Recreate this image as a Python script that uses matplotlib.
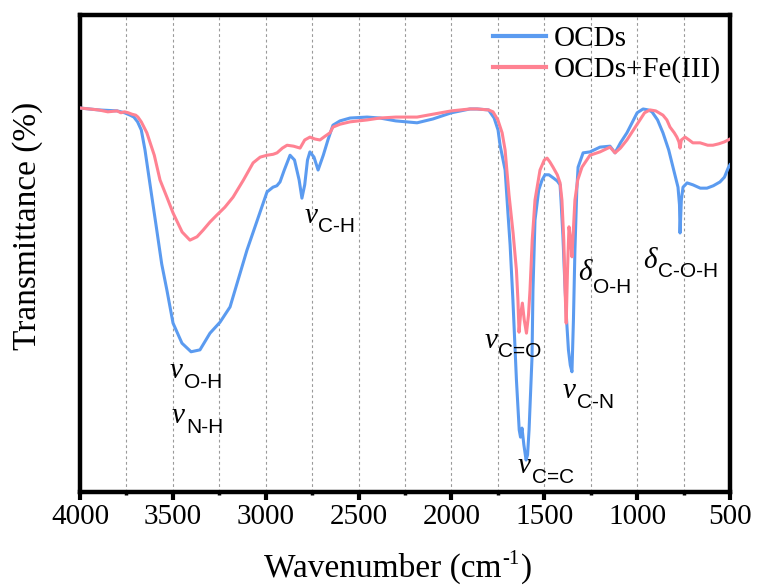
import matplotlib
matplotlib.use("Agg")
import matplotlib.pyplot as plt
from matplotlib.ticker import MultipleLocator

# ---- data (wavenumber in cm^-1, transmittance in arbitrary %) ----
ocds_wn = [4000, 3950, 3900, 3850, 3800, 3760, 3730, 3710, 3690, 3670, 3650, 3620, 3590,
           3560, 3532, 3499, 3451, 3402, 3354, 3300, 3246, 3192, 3101, 2993, 2961, 2940,
           2923, 2900, 2869, 2845, 2820, 2805, 2790, 2775, 2762, 2740, 2718, 2690, 2665,
           2638, 2600, 2546, 2454, 2385, 2300, 2185, 2100, 2000, 1900, 1862, 1800, 1770,
           1749, 1738, 1711, 1695, 1684, 1669, 1650, 1635, 1628, 1620, 1610, 1598, 1590,
           1582, 1566, 1561, 1550, 1530, 1512, 1496, 1475, 1450, 1430, 1415, 1410, 1400,
           1390, 1380, 1370, 1360, 1351, 1343, 1335, 1325, 1318, 1291, 1254, 1200, 1146,
           1119, 1090, 1055, 1000, 968, 940, 920, 890, 861, 830, 807, 780, 772, 769, 762,
           753, 731, 700, 660, 624, 590, 554, 530, 510, 500]
ocds_t = [80.5, 80.3, 80.1, 80.0, 79.9, 79.5, 79.0, 78.6, 77.6, 75.9, 71.7, 63.7, 55.8,
          47.8, 42.3, 35.4, 31.2, 29.4, 29.8, 33.3, 35.6, 38.8, 50.7, 62.9, 63.9, 64.2,
          65.0, 67.5, 70.6, 69.6, 65.4, 61.6, 64.4, 69.6, 71.3, 70.2, 67.5, 70.6, 73.8,
          76.9, 77.8, 78.4, 78.6, 78.4, 77.8, 77.4, 78.2, 79.5, 80.3, 80.3, 80.1, 78.4,
          75.9, 72.7, 67.5, 58.1, 51.8, 40.3, 23.5, 13.0, 11.5, 13.4, 9.9, 6.7, 7.8,
          13.0, 28.3, 42.3, 57.0, 63.3, 65.4, 66.5, 66.5, 65.8, 65.2, 64.4, 61.2, 53.9,
          44.4, 36.1, 29.8, 26.6, 25.2, 36.1, 50.7, 63.3, 68.1, 71.1, 71.3, 72.3, 72.5,
          71.1, 73.2, 75.3, 79.5, 80.3, 80.1, 79.7, 78.0, 75.3, 71.7, 68.1, 63.9, 60.2, 54.3, 61.2,
          63.9, 64.8, 64.4, 63.7, 63.7, 64.2, 65.0, 66.0, 67.9, 68.6]

fe_wn = [4000, 3950, 3900, 3850, 3800, 3780, 3760, 3740, 3720, 3700, 3688, 3670, 3640,
         3600, 3569, 3530, 3499, 3450, 3408, 3370, 3337, 3300, 3262, 3220, 3176, 3120,
         3068, 3030, 2993, 2960, 2939, 2910, 2885, 2850, 2815, 2790, 2762, 2735, 2708,
         2680, 2654, 2638, 2600, 2546, 2454, 2385, 2300, 2185, 2100, 2000, 1900, 1862,
         1800, 1776, 1750, 1727, 1711, 1690, 1668, 1650, 1642, 1636, 1628, 1618, 1608,
         1596, 1585, 1577, 1565, 1550, 1523, 1500, 1485, 1470, 1453, 1430, 1415, 1405,
         1395, 1388, 1382, 1375, 1367, 1358, 1351, 1335, 1320, 1297, 1254, 1200, 1146,
         1119, 1090, 1055, 1020, 985, 960, 931, 900, 861, 840, 823, 800, 786, 775, 769,
         762, 742, 720, 700, 661, 620, 592, 560, 530, 510, 500]
fe_t = [80.5, 80.3, 80.1, 79.7, 79.9, 79.5, 79.7, 79.5, 79.2, 79.0, 78.6, 77.6, 75.3,
        70.6, 65.4, 61.6, 58.5, 54.5, 52.8, 53.5, 54.9, 56.6, 58.1, 59.7, 61.8, 65.4,
        69.0, 70.2, 70.6, 70.8, 71.1, 72.1, 72.7, 72.5, 72.1, 73.8, 74.4, 74.0, 73.8,
        74.6, 75.3, 76.5, 77.1, 77.6, 78.0, 78.4, 78.6, 78.6, 79.2, 79.9, 80.3, 80.3,
        80.1, 79.7, 78.0, 75.3, 71.7, 62.3, 54.3, 46.5, 40.3, 33.5, 37.1, 39.6, 36.1,
        33.3, 37.1, 42.3, 52.8, 61.2, 67.5, 69.6, 70.0, 69.2, 68.1, 66.5, 64.8, 61.2,
        52.8, 42.3, 35.4, 46.5, 55.6, 52.8, 49.3, 61.2, 65.4, 68.1, 70.6, 71.3, 72.3,
        71.1, 72.1, 73.8, 75.9, 78.0, 79.5, 80.1, 79.9, 79.0, 78.0, 76.5, 75.3, 74.4, 73.4, 72.1,
        73.8, 74.4, 73.8, 73.2, 73.2, 72.7, 72.7, 73.0, 73.4, 73.8, 74.0]

series_labels = ["OCDs", "OCDs+Fe(III)"]
series_colors = ["#5B9BF0", "#FF8292"]

x_major = [4000, 3500, 3000, 2500, 2000, 1500, 1000, 500]

# annotations: (symbol, subscript, wavenumber, transmittance, dx_pt, dy_pt)
annots = [
    ("v", "O-H", 3515, 23.9, 10, -7),
    ("v", "N-H", 3505, 14.5, 10, -7),
    ("v", "C-H", 2788, 56.4, 9, -6.5),
    ("v", "C=O", 1819, 30.2, 9.5, -6.5),
    ("v", "C=C", 1642, 4.0, 10, -7),
    ("v", "C-N", 1399, 19.7, 10, -7),
    ("\u03b4", "O-H", 1318, 44.4, 11, -9),
    ("\u03b4", "C-O-H", 968, 47.0, 11, -6.5),
]

W, H = 757, 588
fig = plt.figure(figsize=(W/100, H/100), dpi=100)
ax = fig.add_axes([80/W, (H-492)/H, 650/W, 477/H])

ax.plot(ocds_wn, ocds_t, color=series_colors[0], lw=2.2, label=series_labels[0], zorder=3)
ax.plot(fe_wn, fe_t, color=series_colors[1], lw=2.2, label=series_labels[1], zorder=3)

ax.set_xlim(4000, 500)
ax.set_ylim(0, 100)
ax.set_xticks(x_major)
ax.xaxis.set_minor_locator(MultipleLocator(250))
ax.set_yticks([])
ax.grid(axis='x', which='both', linestyle=(0, (2.5, 2.5)), color='#9a9a9a', lw=0.8, zorder=0)

for s in ax.spines.values():
    s.set_linewidth(3.2)
ax.tick_params(axis='x', which='major', direction='out', length=6, width=3, pad=3)
ax.tick_params(axis='x', which='minor', direction='out', length=2.5, width=2.5)
for lab in ax.get_xticklabels():
    lab.set_fontfamily('Liberation Serif')
    lab.set_fontsize(21)

# x-axis label with a hyphen superscript, composed from three text pieces
renderer = fig.canvas.get_renderer()
serif = 'Liberation Serif'
p1 = fig.text(0, 0, 'Wavenumber (cm', family=serif, fontsize=24, ha='left', va='baseline')
p2 = fig.text(0, 0, '-1', family=serif, fontsize=15, ha='left', va='baseline')
p3 = fig.text(0, 0, ')', family=serif, fontsize=24, ha='left', va='baseline')
w1 = p1.get_window_extent(renderer).width
w2 = p2.get_window_extent(renderer).width
w3 = p3.get_window_extent(renderer).width
x0 = 397 - (w1 + w2 + w3) / 2
base = 577
p1.set_position((x0 / W, 1 - base / H))
p2.set_position(((x0 + w1 + 1) / W, 1 - (base - 13) / H))
p3.set_position(((x0 + w1 + w2 + 2) / W, 1 - base / H))

fig.text(28/W, 1-226/H, 'Transmittance (%)', family=serif, fontsize=24,
         rotation=90, ha='center', va='center')

leg = ax.legend(loc='upper right', bbox_to_anchor=(0.986, 0.977), frameon=False,
                prop={'family': serif, 'size': 21}, handlelength=1.8,
                handletextpad=0.28, labelspacing=0.14, borderpad=0, borderaxespad=0)
for h in leg.get_lines():
    h.set_linewidth(3)

for sym, sub, w, t, dx, dy in annots:
    ax.annotate(sym, (w, t), xycoords='data', fontsize=21, family=serif,
                style='italic', ha='left', va='baseline', zorder=5)
    ax.annotate(sub, (w, t), xycoords='data', xytext=(dx, dy), textcoords='offset points',
                fontsize=15, family='Liberation Sans', ha='left', va='baseline', zorder=5)

fig.savefig('out.png', dpi=100)
